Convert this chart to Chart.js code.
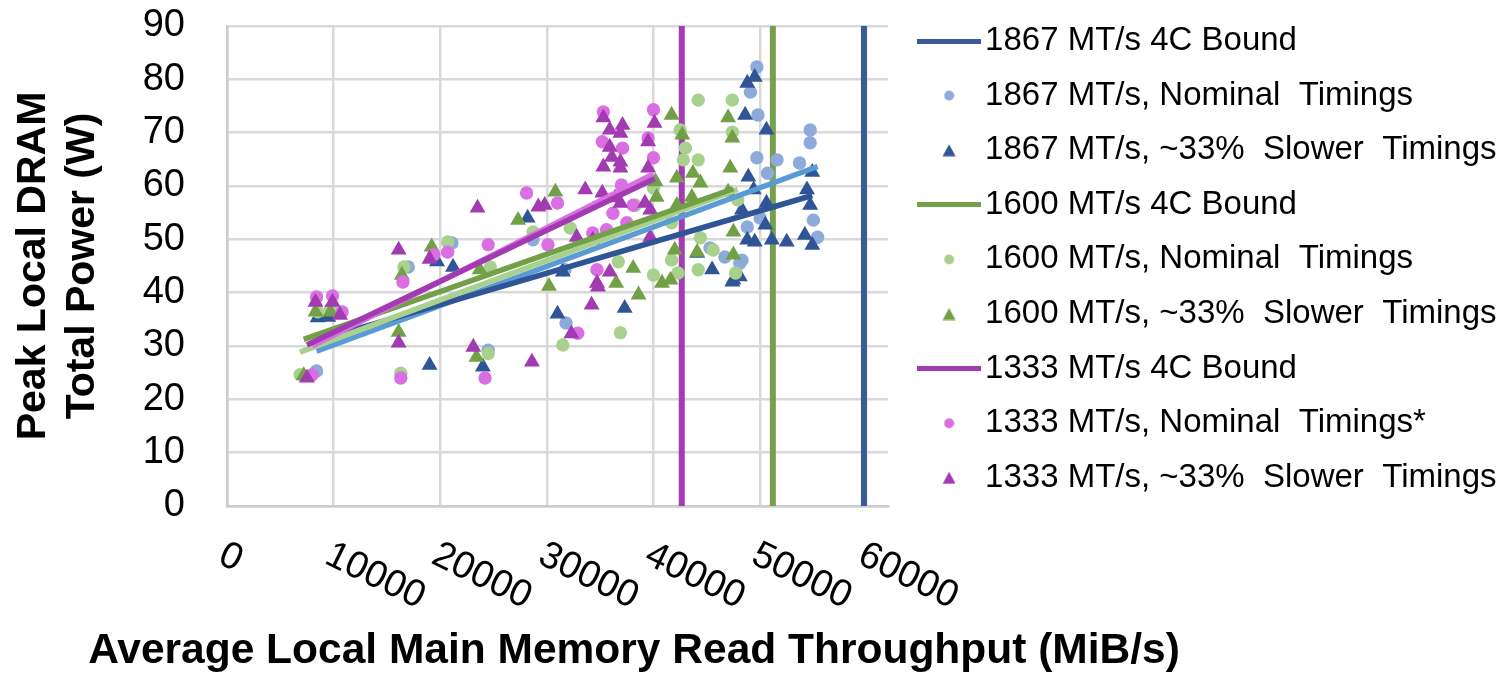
<!DOCTYPE html>
<html>
<head>
<meta charset="utf-8">
<script src="https://cdn.jsdelivr.net/npm/chart.js@4.4.1/dist/chart.umd.min.js"></script>
<style>
  body { margin: 0; background: #fff; }
  canvas { display: block; }
</style>
</head>
<body>
<canvas id="power" width="1501" height="675"></canvas>
<script>
// tick labels
const xTicks = [0, 10000, 20000, 30000, 40000, 50000, 60000];
const yTicks = [0, 10, 20, 30, 40, 50, 60, 70, 80, 90];

// peak 4-channel bandwidth bounds (vertical lines)
const boundLabels = ['1867 MT/s 4C Bound', '1600 MT/s 4C Bound', '1333 MT/s 4C Bound'];
const boundX = [59744, 51200, 42656];

// [throughput MiB/s, peak power W]
const nominal1867 = [
  [8400, 25.3], [17000, 44.8], [21100, 49.3], [24500, 29.2], [28700, 49.9], [31800, 34.3],
  [31700, 44.3], [48100, 45.5], [49700, 82.3], [49100, 77.6], [49800, 73.3], [54700, 70.5],
  [54700, 68.1], [49700, 65.3], [51600, 64.9], [53700, 64.3], [50700, 62.4], [50000, 54.0],
  [55000, 53.6], [55400, 50.4], [48800, 52.3], [48300, 46.1], [46700, 46.7], [45300, 48.4]
];
const slower1867 = [
  [8500, 35.3], [9500, 35.4], [19000, 26.4], [19700, 45.8], [21200, 44.8], [24000, 26.1],
  [28200, 54.0], [31000, 36.0], [31500, 43.9], [37300, 37.1], [44100, 47.4], [45500, 44.3],
  [47400, 42.0], [48100, 43.0], [48800, 79.3], [49500, 80.4], [48600, 73.3], [50600, 70.5],
  [48900, 61.7], [49400, 59.3], [48300, 55.5], [50600, 56.8], [50500, 52.7], [48800, 49.9],
  [49500, 49.5], [51100, 49.9], [52500, 49.5], [54200, 50.8], [54900, 48.9], [54900, 62.6],
  [54400, 59.3], [54700, 56.4], [47500, 42.4]
];
const nominal1600 = [
  [6850, 24.6], [8500, 36.4], [9700, 37.0], [16600, 44.8], [16300, 24.9], [20700, 49.5],
  [24500, 28.6], [24700, 44.8], [28700, 51.4], [31500, 30.2], [32200, 52.1], [36900, 32.5],
  [40000, 43.3], [42300, 43.7], [44200, 44.3], [47700, 43.7], [44200, 76.1], [47400, 76.1],
  [42500, 70.5], [43000, 67.1], [42800, 64.9], [44200, 64.9], [47400, 70.1], [38300, 56.4],
  [40000, 59.6], [41700, 53.1], [44400, 50.3], [45600, 48.0], [36700, 45.8], [41700, 46.1],
  [47900, 57.4]
];
const slower1600 = [
  [7200, 24.5], [8300, 36.4], [9700, 36.4], [16400, 43.3], [16100, 32.6], [19200, 48.6],
  [23400, 27.9], [23700, 44.3], [27300, 53.6], [30800, 58.9], [30200, 41.2], [38600, 39.6],
  [36500, 41.8], [38100, 44.6], [40800, 41.8], [41600, 42.4], [41700, 73.3], [42700, 69.6],
  [47000, 72.8], [47400, 69.0], [47200, 63.4], [42200, 61.5], [43700, 62.4], [44400, 60.6],
  [43600, 57.9], [40300, 57.9], [42200, 56.4], [40200, 60.8], [47000, 58.9], [47500, 51.4],
  [42000, 48.0], [44100, 47.6], [47500, 47.1]
];
const nominal1333 = [
  [8000, 24.6], [8400, 39.2], [9900, 39.4], [10800, 36.4], [16500, 42.0], [16300, 24.0],
  [19400, 47.1], [20700, 47.6], [24500, 49.0], [24200, 24.0], [28100, 58.7], [31000, 56.8],
  [30100, 49.0], [32900, 32.4], [34700, 44.3], [35300, 73.9], [40000, 74.3], [35200, 68.3],
  [37100, 67.1], [39500, 69.0], [40000, 65.3], [37000, 60.2], [38100, 56.4], [36200, 54.9],
  [37500, 53.1], [35600, 51.8], [34300, 51.2]
];
const slower1333 = [
  [7500, 24.0], [8300, 38.2], [9900, 38.2], [10600, 35.8], [16100, 48.0], [16100, 30.6],
  [19000, 46.3], [23100, 29.8], [23500, 55.9], [28600, 27.0], [29200, 56.1], [29800, 56.4],
  [32300, 32.3], [34200, 37.7], [34800, 41.1], [35900, 43.9], [35300, 72.8], [37100, 71.4],
  [40100, 71.8], [35900, 70.5], [35900, 67.3], [36900, 69.9], [39500, 68.3], [35300, 63.6],
  [36900, 64.5], [36900, 63.4], [39500, 63.4], [36100, 65.4], [33600, 59.3], [35200, 58.7],
  [36400, 57.8], [36900, 56.8], [39200, 56.8], [39700, 55.5], [32800, 50.4], [34300, 49.9],
  [39700, 50.4], [34700, 41.8]
];

const FONT = "'Liberation Sans', Arial, sans-serif";
const GRID = '#d9d9d9';

// least squares line over the series' x range, like Excel's linear trendline
function trend(pts) {
  const n = pts.length;
  let sx = 0, sy = 0, sxx = 0, sxy = 0;
  pts.forEach(([x, y]) => { sx += x; sy += y; sxx += x * x; sxy += x * y; });
  const b = (n * sxy - sx * sy) / (n * sxx - sx * sx);
  const a = (sy - b * sx) / n;
  const xs = pts.map(p => p[0]);
  const lo = Math.min(...xs), hi = Math.max(...xs);
  return [{x: lo, y: a + b * lo}, {x: hi, y: a + b * hi}];
}

function lineIcon(color) {
  const c = document.createElement('canvas');
  c.width = 64; c.height = 5;
  const g = c.getContext('2d');
  g.fillStyle = color;
  g.fillRect(0, 0, 64, 5);
  return c;
}
function dotIcon(color) {
  const c = document.createElement('canvas');
  c.width = 11; c.height = 11;
  const g = c.getContext('2d');
  g.fillStyle = color;
  g.beginPath(); g.arc(5.5, 5.5, 5, 0, Math.PI * 2); g.fill();
  return c;
}
function triIcon(color) {
  const c = document.createElement('canvas');
  c.width = 14; c.height = 13;
  const g = c.getContext('2d');
  g.fillStyle = color;
  g.beginPath(); g.moveTo(7, 0.5); g.lineTo(13.5, 12.5); g.lineTo(0.5, 12.5); g.closePath(); g.fill();
  return c;
}

const toXY = pts => pts.map(([x, y]) => ({x, y}));

function bound(i, color) {
  return {
    label: boundLabels[i],
    data: [{x: boundX[i], y: 0}, {x: boundX[i], y: yTicks[yTicks.length - 1]}],
    showLine: true, borderColor: color, borderWidth: 6, pointRadius: 0,
    order: 20, legendIcon: lineIcon(color)
  };
}
function dots(label, pts, color, order) {
  return {
    label, data: toXY(pts), pointStyle: 'circle', pointRadius: 6.7, pointBorderWidth: 0,
    backgroundColor: color, borderColor: color, order, legendIcon: dotIcon(color)
  };
}
function tris(label, pts, color, order) {
  return {
    label, data: toXY(pts), pointStyle: 'triangle', pointRadius: 9.2, pointBorderWidth: 0,
    backgroundColor: color, borderColor: color, order, legendIcon: triIcon(color)
  };
}
function trendLine(pts, color, order) {
  return {
    label: '', data: trend(pts), showLine: true, borderColor: color, borderWidth: 5.5,
    pointRadius: 0, order, trend: true
  };
}

const datasets = [
  bound(0, '#3a5a9c'),
  dots('1867 MT/s, Nominal  Timings', nominal1867, '#8eaadb', 16),
  tris('1867 MT/s, ~33%  Slower  Timings', slower1867, '#2f5597', 15),
  bound(1, '#77a04d'),
  dots('1600 MT/s, Nominal  Timings', nominal1600, '#a9d18e', 14),
  tris('1600 MT/s, ~33%  Slower  Timings', slower1600, '#72a046', 13),
  bound(2, '#a33bb2'),
  dots('1333 MT/s, Nominal  Timings*', nominal1333, '#d96fe3', 12),
  tris('1333 MT/s, ~33%  Slower  Timings', slower1333, '#a23ab1', 11),
  trendLine(nominal1867, '#5b9bd5', 6),
  trendLine(slower1867, '#2f5597', 5),
  trendLine(nominal1600, '#a9d18e', 4),
  trendLine(slower1600, '#72a046', 3),
  trendLine(nominal1333, '#d96fe3', 2),
  trendLine(slower1333, '#a23ab1', 1)
];

// legend sits a little right of the plot, like the original
const moveLegend = {
  id: 'moveLegend',
  afterLayout(chart) {
    const lg = chart.legend;
    lg.left = 908; lg.right = 1501;
    lg.top = 2.9; lg.bottom = 675;
  }
};

// slanted x tick labels and the x title
const xText = {
  id: 'xText',
  afterDraw(chart) {
    const {ctx} = chart;
    const xs = chart.scales.x;
    ctx.save();
    ctx.fillStyle = '#000';
    ctx.font = '38px ' + FONT;
    ctx.textAlign = 'left';
    ctx.textBaseline = 'middle';
    xTicks.forEach(v => {
      const px = xs.getPixelForValue(v);
      ctx.save();
      ctx.translate(px - 6, 553);
      ctx.rotate(26 * Math.PI / 180);
      ctx.fillText(String(v), 0, 0);
      ctx.restore();
    });
    ctx.font = 'bold 42.5px ' + FONT;
    ctx.textAlign = 'center';
    ctx.fillText('Average Local Main Memory Read Throughput (MiB/s)', 634, 651);
    ctx.restore();
  }
};

new Chart(document.getElementById('power'), {
  type: 'scatter',
  data: { datasets },
  options: {
    responsive: false,
    animation: false,
    layout: { padding: { top: 26, right: 73, bottom: 0, left: 0 } },
    scales: {
      x: {
        type: 'linear', min: 0, max: 62000,
        afterBuildTicks: s => { s.ticks = xTicks.map(v => ({value: v})); },
        afterFit: s => { s.height = 169; s.paddingLeft = 0; s.paddingRight = 0; },
        ticks: { display: false },
        grid: { color: GRID, lineWidth: 2.5, drawTicks: false },
        border: { color: '#cccccc', width: 2.5 }
      },
      y: {
        type: 'linear', min: 0, max: 90,
        afterBuildTicks: s => { s.ticks = yTicks.map(v => ({value: v})); },
        afterFit: s => { s.width = 227; s.paddingTop = 0; s.paddingBottom = 0; },
        ticks: { color: '#000', padding: 42, font: { family: FONT, size: 38 } },
        grid: { color: GRID, lineWidth: 2.5, drawTicks: false },
        border: { color: '#cccccc', width: 2.5 },
        title: {
          display: true,
          text: ['Peak Local DRAM', 'Total Power (W)'],
          color: '#000',
          font: { family: FONT, size: 41, weight: 'bold', lineHeight: 1.2 },
          padding: { top: 9, bottom: 0 }
        }
      }
    },
    plugins: {
      legend: {
        position: 'right',
        align: 'start',
        maxWidth: 540,
        labels: {
          color: '#000',
          font: { family: FONT, size: 33 },
          usePointStyle: true,
          pointStyleWidth: 39,
          padding: 21.6,
          filter: (item, data) => !data.datasets[item.datasetIndex].trend,
          sort: (a, b) => a.datasetIndex - b.datasetIndex,
          generateLabels: chart => {
            const items = Chart.defaults.plugins.legend.labels.generateLabels(chart);
            items.forEach(it => { it.pointStyle = chart.data.datasets[it.datasetIndex].legendIcon; });
            return items;
          }
        }
      },
      tooltip: { enabled: false }
    }
  },
  plugins: [moveLegend, xText]
});
</script>
</body>
</html>
